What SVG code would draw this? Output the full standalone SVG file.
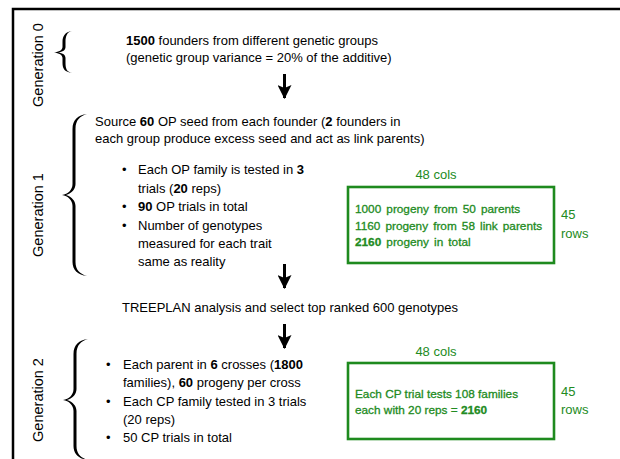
<svg xmlns="http://www.w3.org/2000/svg" width="620" height="459" viewBox="0 0 620 459">
<defs>
<style>
text{font-family:"Liberation Sans",Arial,sans-serif;font-size:13px;fill:#000}
.gen{font-size:14.5px;text-anchor:middle}
.g{fill:#228b22}
.bt{font-size:11.8px;fill:#228b22;stroke:#228b22;stroke-width:0.3}
.ws{word-spacing:1.8px}
.box{fill:none;stroke:#1e8a1e;stroke-width:2.6}
.brace{fill:#000}
.conn{stroke:#000;stroke-width:3;fill:none}
.b{font-weight:bold}
</style>
<marker id="ah" viewBox="0 0 14 14" refX="13" refY="7" markerWidth="14" markerHeight="14" markerUnits="userSpaceOnUse" orient="auto">
<path d="M0,0 L14,7 L0,14 L3,7 Z" fill="#000"/>
</marker>
</defs>
<rect width="620" height="459" fill="#fff"/>
<path d="M13,459 V9 H620" fill="none" stroke="#000" stroke-width="2.5"/>

<g id="gen0">
<text class="gen" transform="translate(43,65) rotate(-90)">Generation 0</text>
<path class="brace" d="M72,31 C65,32 62.5,36 62.5,42 L62.5,47 C62.5,50 59,52 54,52.5 C59,53 62.5,55 62.5,58 L62.5,63 C62.5,69 65,72 72,73 C67,72 65.5,69 65.5,63 L65.5,58 C65.5,55 63,53 58,52.5 C63,52 65.5,50 65.5,47 L65.5,42 C65.5,36 67,32 72,31 Z"/>
<text x="126" y="45"><tspan class="b">1500</tspan> founders from different genetic groups</text>
<text x="126" y="62">(genetic group variance = 20% of the additive)</text>
</g>

<g id="gen1">
<text class="gen" transform="translate(43,215) rotate(-90)">Generation 1</text>
<path class="brace" d="M87,114 C78,115 72.5,120 72.5,129 L72.5,184 C72.5,190 68,194 62,195 C68,196 72.5,200 72.5,206 L72.5,262 C72.5,270 78,275 87,276 C80,274 75.5,270 75.5,262 L75.5,206 C75.5,201 72,197 66,195 C72,193 75.5,189 75.5,184 L75.5,129 C75.5,120 80,116 87,114 Z"/>
<text x="95" y="126">Source <tspan class="b">60</tspan> OP seed from each founder (<tspan class="b">2</tspan> founders in</text>
<text x="95" y="143">each group produce excess seed and act as link parents)</text>
<text x="122" y="174">•</text>
<text x="138" y="174">Each OP family is tested in <tspan class="b">3</tspan></text>
<text x="138" y="193">trials (<tspan class="b">20</tspan> reps)</text>
<text x="122" y="211">•</text>
<text x="138" y="211"><tspan class="b">90</tspan> OP trials in total</text>
<text x="122" y="230">•</text>
<text x="138" y="230">Number of genotypes</text>
<text x="138" y="248">measured for each trait</text>
<text x="138" y="266">same as reality</text>
</g>

<g id="trial1">
<text class="g" x="436" y="179" text-anchor="middle">48 cols</text>
<rect class="box" x="348" y="187" width="206" height="76"/>
<text class="bt ws" x="355" y="213">1000 progeny from 50 parents</text>
<text class="bt ws" x="355" y="230">1160 progeny from 58 link parents</text>
<text class="bt ws" x="355" y="246"><tspan class="b">2160</tspan> progeny in total</text>
<text class="g" x="561" y="219">45</text>
<text class="g" x="561" y="238">rows</text>
</g>

<g id="select">
<text x="122" y="312">TREEPLAN analysis and select top ranked 600 genotypes</text>
</g>

<g id="gen2">
<text class="gen" transform="translate(43,400) rotate(-90)">Generation 2</text>
<path class="brace" d="M88,339 C79,340 73.5,345 73.5,354 L73.5,389 C73.5,395 69,399 63,400 C69,401 73.5,405 73.5,411 L73.5,446 C73.5,454 79,459 88,460 C81,458 76.5,454 76.5,446 L76.5,411 C76.5,406 73,402 67,400 C73,398 76.5,394 76.5,389 L76.5,354 C76.5,345 81,341 88,339 Z"/>
<text x="106" y="369">•</text>
<text x="123" y="369">Each parent in <tspan class="b">6</tspan> crosses (<tspan class="b">1800</tspan></text>
<text x="123" y="387">families), <tspan class="b">60</tspan> progeny per cross</text>
<text x="106" y="406">•</text>
<text x="123" y="406">Each CP family tested in 3 trials</text>
<text x="123" y="424">(20 reps)</text>
<text x="106" y="442">•</text>
<text x="123" y="442">50 CP trials in total</text>
</g>

<g id="trial2">
<text class="g" x="436" y="356" text-anchor="middle">48 cols</text>
<rect class="box" x="348" y="363" width="206" height="76"/>
<text class="bt" x="355" y="398">Each CP trial tests 108 families</text>
<text class="bt" x="355" y="414">each with 20 reps = <tspan class="b">2160</tspan></text>
<text class="g" x="561" y="396">45</text>
<text class="g" x="561" y="414">rows</text>
</g>

<g id="connectors">
<line class="conn" x1="284.5" y1="74" x2="284.5" y2="98" marker-end="url(#ah)"/>
<line class="conn" x1="284.5" y1="264" x2="284.5" y2="288" marker-end="url(#ah)"/>
<line class="conn" x1="284.5" y1="324" x2="284.5" y2="348" marker-end="url(#ah)"/>
</g>
</svg>
